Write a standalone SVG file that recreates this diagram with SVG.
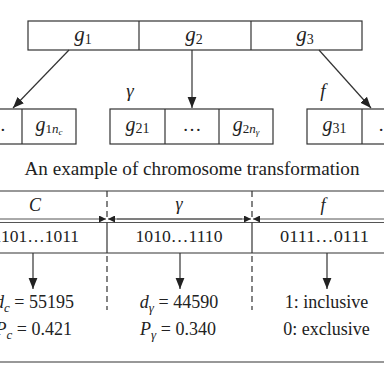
<svg xmlns="http://www.w3.org/2000/svg" width="384" height="384" viewBox="0 0 384 384">
<style>
.t{font-family:"Liberation Serif","Times New Roman",serif;fill:#222;}
.i{font-style:italic;}
.box{fill:#fff;stroke:#333;stroke-width:1.2;}
.ln{stroke:#333;stroke-width:1.2;fill:none;}
.thin{stroke:#555;stroke-width:1;fill:none;}
.dash{stroke:#333;stroke-width:1.2;stroke-dasharray:6,4;fill:none;}
</style>
<defs>
<marker id="ah" viewBox="0 0 10 10" refX="10" refY="5" markerWidth="11" markerHeight="11" markerUnits="userSpaceOnUse" orient="auto">
<path d="M0,1 L10,5 L0,9 Z" fill="#222"/>
</marker>
<marker id="dh" viewBox="0 0 10 10" refX="10" refY="5" markerWidth="9" markerHeight="7" markerUnits="userSpaceOnUse" orient="auto">
<path d="M0,0 L10,5 L0,10 Z" fill="#222"/>
</marker>
</defs>
<rect width="384" height="384" fill="#fff"/>

<g id="chromosome">
<rect class="box" x="28" y="21" width="334" height="29"/>
<line class="ln" x1="139" y1="21" x2="139" y2="50"/>
<line class="ln" x1="251" y1="21" x2="251" y2="50"/>
<text class="t" x="83" y="41" font-size="21" text-anchor="middle"><tspan class="i">g</tspan><tspan font-size="14" dy="3">1</tspan></text>
<text class="t" x="194" y="41" font-size="21" text-anchor="middle"><tspan class="i">g</tspan><tspan font-size="14" dy="3">2</tspan></text>
<text class="t" x="305" y="41" font-size="21" text-anchor="middle"><tspan class="i">g</tspan><tspan font-size="14" dy="3">3</tspan></text>
</g>

<g id="group-c">
<rect class="box" x="-10" y="109" width="86" height="35"/>
<line class="ln" x1="22" y1="109" x2="22" y2="144"/>
<text class="t" x="6" y="131" font-size="19" text-anchor="end">…</text>
<text class="t" x="49" y="131" font-size="20" text-anchor="middle"><tspan class="i">g</tspan><tspan font-size="13" dy="2">1</tspan><tspan class="i" font-size="13">n</tspan><tspan class="i" font-size="9" dy="2">c</tspan></text>
</g>

<g id="group-gamma">
<text class="t i" x="130" y="97" font-size="19" text-anchor="middle">γ</text>
<rect class="box" x="110" y="109" width="163" height="35"/>
<line class="ln" x1="165" y1="109" x2="165" y2="144"/>
<line class="ln" x1="219" y1="109" x2="219" y2="144"/>
<text class="t" x="137.5" y="131" font-size="20" text-anchor="middle"><tspan class="i">g</tspan><tspan font-size="14" dy="2">21</tspan></text>
<text class="t" x="192" y="131" font-size="19" text-anchor="middle">…</text>
<text class="t" x="246" y="131" font-size="20" text-anchor="middle"><tspan class="i">g</tspan><tspan font-size="13" dy="2">2</tspan><tspan class="i" font-size="13">n</tspan><tspan class="i" font-size="9" dy="2">γ</tspan></text>
</g>

<g id="group-f">
<text class="t i" x="323" y="97" font-size="19" text-anchor="middle">f</text>
<rect class="box" x="307" y="109" width="90" height="35"/>
<line class="ln" x1="362" y1="109" x2="362" y2="144"/>
<text class="t" x="334.5" y="131" font-size="20" text-anchor="middle"><tspan class="i">g</tspan><tspan font-size="14" dy="2">31</tspan></text>
<text class="t" x="378" y="131" font-size="19">…</text>
</g>

<g id="caption">
<text class="t" x="192" y="175" font-size="18" text-anchor="middle" textLength="335" lengthAdjust="spacingAndGlyphs">An example of chromosome transformation</text>
</g>

<g id="table">
<line class="ln" x1="0" y1="191" x2="384" y2="191"/>
<line class="thin" x1="0" y1="222.5" x2="384" y2="222.5"/>
<line class="ln" x1="0" y1="253" x2="384" y2="253"/>
<line class="ln" x1="0" y1="362" x2="384" y2="362"/>
<line class="ln" x1="107" y1="222.5" x2="107" y2="253"/>
<line class="ln" x1="252" y1="222.5" x2="252" y2="253"/>
<text class="t i" x="35" y="211" font-size="18" text-anchor="middle">C</text>
<text class="t i" x="179" y="210" font-size="18" text-anchor="middle">γ</text>
<text class="t i" x="323" y="211" font-size="18" text-anchor="middle">f</text>
<text class="t" x="79" y="242" font-size="17.5" text-anchor="end">1101…1011</text>
<text class="t" x="179" y="242" font-size="17.5" text-anchor="middle" textLength="87" lengthAdjust="spacingAndGlyphs">1010…1110</text>
<text class="t" x="324.5" y="242" font-size="17.5" text-anchor="middle" textLength="89" lengthAdjust="spacingAndGlyphs">0111…0111</text>
<text class="t" x="74" y="308" font-size="18" text-anchor="end"><tspan class="i">d</tspan><tspan class="i" font-size="13" dy="4">c</tspan><tspan dy="-4"> = 55195</tspan></text>
<text class="t" x="72" y="335" font-size="18" text-anchor="end"><tspan class="i">P</tspan><tspan class="i" font-size="13" dy="4">c</tspan><tspan dy="-4"> = 0.421</tspan></text>
<text class="t" x="179" y="308" font-size="18" text-anchor="middle"><tspan class="i">d</tspan><tspan class="i" font-size="13" dy="4">γ</tspan><tspan dy="-4"> = 44590</tspan></text>
<text class="t" x="178" y="335" font-size="18" text-anchor="middle"><tspan class="i">P</tspan><tspan class="i" font-size="13" dy="4">γ</tspan><tspan dy="-4"> = 0.340</tspan></text>
<text class="t" x="326.5" y="308" font-size="18" text-anchor="middle">1: inclusive</text>
<text class="t" x="326.5" y="335" font-size="18" text-anchor="middle">0: exclusive</text>
</g>

<g id="connectors">
<line class="ln" x1="69" y1="50" x2="13" y2="108" marker-end="url(#ah)"/>
<line class="ln" x1="192" y1="50" x2="192" y2="108" marker-end="url(#ah)"/>
<line class="ln" x1="319" y1="50" x2="371" y2="108" marker-end="url(#ah)"/>
<line class="dash" x1="107" y1="191" x2="107" y2="219"/>
<line class="dash" x1="252" y1="191" x2="252" y2="219"/>
<line class="dash" x1="107" y1="256" x2="107" y2="310"/>
<line class="dash" x1="252" y1="256" x2="252" y2="310"/>
<line class="thin" x1="0" y1="219" x2="106" y2="219" marker-end="url(#dh)"/>
<line class="thin" x1="242" y1="219" x2="108" y2="219" marker-end="url(#dh)"/>
<line class="thin" x1="117" y1="219" x2="251" y2="219" marker-end="url(#dh)"/>
<line class="thin" x1="384" y1="219" x2="253" y2="219" marker-end="url(#dh)"/>
<line class="ln" x1="33" y1="253" x2="33" y2="289" marker-end="url(#ah)"/>
<line class="ln" x1="180" y1="253" x2="180" y2="289" marker-end="url(#ah)"/>
<line class="ln" x1="327" y1="253" x2="327" y2="289" marker-end="url(#ah)"/>
</g>
</svg>
